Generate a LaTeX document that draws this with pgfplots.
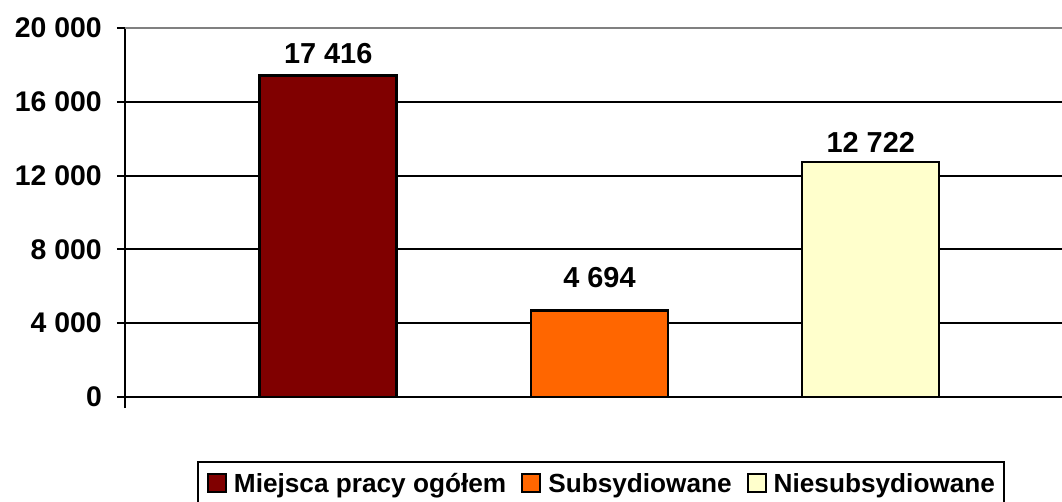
\documentclass[border=0pt]{standalone}
\usepackage{pgfplots}
\pgfplotsset{compat=1.18}
\usepackage{fontspec}
\setmainfont{Liberation Sans}
\definecolor{c1}{HTML}{800000}
\definecolor{c2}{HTML}{FF6600}
\definecolor{c3}{HTML}{FFFFCC}
\begin{document}
\begin{tikzpicture}
\useasboundingbox (0,0) rectangle (1062bp,502bp);
\begin{axis}[
 at={(125bp,105bp)}, anchor=south west,
 scale only axis, width=937bp, height=369bp,
 xmin=-0.749, xmax=2.705, ymin=0, ymax=20000,
 scaled y ticks=false,
 axis lines=left, axis line style={-, line width=2.4bp, black},
 y axis line style={shorten <=-11bp},
 xtick=\empty,
 ytick={0,4000,8000,12000,16000},
 yticklabels={0,4 000,8 000,12 000,16 000},
 extra y ticks={20000}, extra y tick labels={20 000},
 extra y tick style={ymajorgrids=true, grid style={line width=2bp, gray}},
 ymajorgrids, grid style={line width=2bp, black},
 tick align=outside, major tick length=8bp, tick style={line width=2bp, black},
 yticklabel style={font=\fontsize{28.5}{30}\selectfont\bfseries, inner sep=0pt, xshift=-15bp},
 ybar, bar width=137bp, bar shift=0pt,
 nodes near coords, point meta=explicit symbolic,
 every node near coord/.append style={font=\fontsize{29}{30}\selectfont\bfseries, inner sep=0pt, anchor=south, black},
 legend columns=3,
 legend style={at={(0.0768,-0.1734)}, anchor=north west, draw=black, line width=2bp,
   font=\fontsize{26.3}{28}\selectfont\bfseries, inner xsep=9bp, inner ysep=11bp,
   nodes={inner sep=0pt, anchor=west},
   /tikz/every odd column/.append style={column sep=7bp},
   /tikz/every even column/.append style={column sep=15bp}},
 legend image code/.code={\draw[#1, line width=2bp] (0bp,-9bp) rectangle (18bp,9bp);},
]
\addplot[fill=c1, draw=black, line width=2.4bp, every node near coord/.append style={yshift=11bp}] coordinates {(0,17416) [17 416]};
\addplot[fill=c2, draw=black, line width=2.4bp, every node near coord/.append style={yshift=21bp}] coordinates {(1,4694) [4 694]};
\addplot[fill=c3, draw=black, line width=2.4bp, every node near coord/.append style={yshift=9bp}] coordinates {(2,12722) [12 722]};
\legend{Miejsca pracy ogółem, Subsydiowane, Niesubsydiowane\hspace{18bp}}
\end{axis}
\end{tikzpicture}
\end{document}
